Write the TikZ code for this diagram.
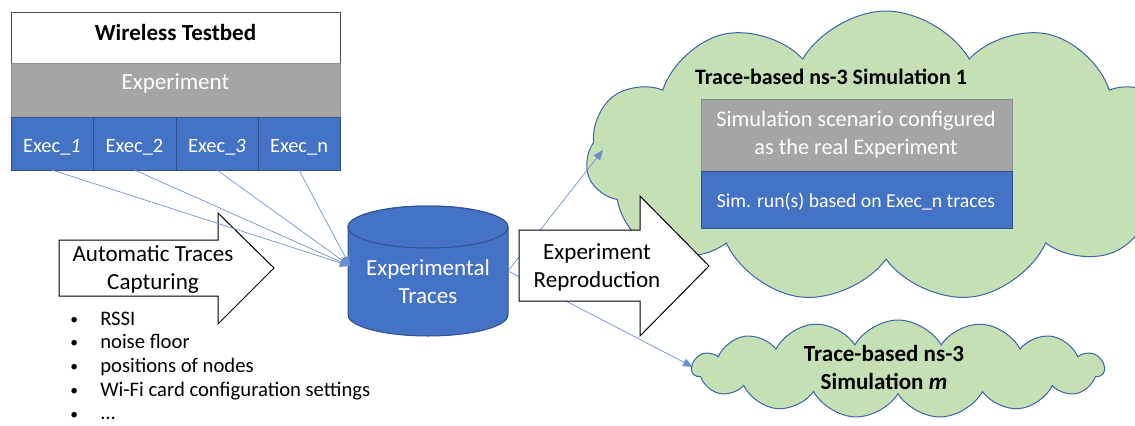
\documentclass[tikz,border=0pt]{standalone}
\usepackage{fontspec}
\setmainfont{Carlito}
\usetikzlibrary{shapes.symbols, arrows.meta}
\definecolor{offblue}{HTML}{4472C4}
\definecolor{offbluedark}{HTML}{2F528F}
\definecolor{offgray}{HTML}{A5A5A5}
\definecolor{offgraydark}{HTML}{8C8C8C}
\definecolor{offgreen}{HTML}{C5E0B4}
\definecolor{cloudline}{HTML}{3C64A8}
\definecolor{connline}{HTML}{6A8FD0}
\def\px{0.75pt}
\newcommand\twol[2]{\begin{tabular}[t]{@{}c@{}}#1\\#2\end{tabular}}
\newcommand\bul{\makebox[22.5pt][l]{\raisebox{0.6pt}{\scalebox{0.75}{\textbullet}}}}
\begin{document}
\begin{tikzpicture}[x=0.75pt, y=-0.75pt,
  big/.style={font=\fontsize{17.3}{21.4}\selectfont},
  txt/.style={inner sep=0pt, outer sep=0pt, anchor=base},
  box/.style={rectangle, inner sep=0pt, outer sep=0pt, anchor=north west, line width=0.75pt},
  whitebox/.style={box, fill=white, draw=black!70},
  graybox/.style={box, fill=offgray, draw=offgraydark},
  bluebox/.style={box, fill=offblue, draw=offbluedark},
  sz/.style 2 args={minimum width=#1*\px, minimum height=#2*\px},
  cloudsh/.style={cloud, cloud puffs=11, cloud puff arc=120, fill=offgreen, draw=cloudline, line width=0.75pt, inner sep=0pt},
  bigarrow/.style={fill=white, draw=black, line width=0.75pt, line join=miter},
  conn/.style={draw=connline, line width=0.5pt, -{Triangle[length=7.5pt, width=6pt]}},
  cyl/.style={fill=offblue, draw=offbluedark, line width=0.75pt}
]
\useasboundingbox (0,0) rectangle (1135,425);
\clip (0,0) rectangle (1135,425);

% clouds
\node[cloudsh, sz={600}{292}] (sim1) at (886,157) {};
\node[cloudsh, cloud puffs=15, sz={412}{98}] (simm) at (898,369) {};

% cylinder
\node[rectangle, inner sep=0pt, sz={160}{130}] (traces) at (428,271) {};
\path[cyl] (348,227) -- (348,315) arc[start angle=180, end angle=360, x radius=60pt, y radius=15.75pt]
  -- (508,227) arc[start angle=0, end angle=180, x radius=60pt, y radius=15.75pt] -- cycle;
\draw[cyl] (428,227) ellipse [x radius=60pt, y radius=15.75pt];
\node[txt, big, text=white] (tracesT) at (428,275) {\twol{Experimental}{Traces}};
\coordinate (trIn) at (350,266);
\coordinate (trOut) at (508,271);
\coordinate (sim1In) at (603,150);
\coordinate (simmIn) at (693,367);

% connectors to clouds
\draw[conn] (trOut) -- (sim1In);
\draw[conn] (trOut) -- (simmIn);

% reproduction arrow
\draw[bigarrow] (519,230) -- (640,230) -- (640,196) -- (709,266) -- (640,336) -- (640,301) -- (519,301) -- cycle;
\node[txt, big] (reproT) at (597,259) {\twol{Experiment}{Reproduction}};

% capturing arrow
\draw[bigarrow] (59,240) -- (218,240) -- (218,213) -- (274,268) -- (218,324) -- (218,296) -- (59,296) -- cycle;
\node[txt, big] (capT) at (153,261) {\twol{Automatic Traces}{Capturing}};

% testbed
\node[whitebox, sz={329}{51}] (testbed) at (11,12) {};
\node[graybox, sz={329}{54}] (experiment) at (11,63) {};
\node[bluebox, sz={82}{53}] (exec1) at (11,117) {};
\node[bluebox, sz={83}{53}] (exec2) at (93,117) {};
\node[bluebox, sz={82}{53}] (exec3) at (176,117) {};
\node[bluebox, sz={82}{53}] (exec4) at (258,117) {};
\node[txt, big] (testbedT) at (175.5,40) {\bfseries Wireless Testbed};
\node[txt, big, text=white] (experimentT) at (175.5,89) {Experiment};
\begin{scope}[font=\fontsize{15.3}{18}\selectfont]
\node[txt, text=white] (exec1T) at (52,152) {Exec\_\textit{1}};
\node[txt, text=white] (exec2T) at (134.5,152) {Exec\_2};
\node[txt, text=white] (exec3T) at (217,152) {Exec\_\textit{3}};
\node[txt, text=white] (exec4T) at (299,152) {Exec\_n};
\end{scope}

% connectors from executions
\draw[conn] (exec1.south) -- (trIn);
\draw[conn] (exec2.south) -- (trIn);
\draw[conn] (exec3.south) -- (trIn);
\draw[conn] (exec4.south) -- (trIn);

% bullets
\node[inner sep=0pt, anchor=base west, font=\fontsize{15.5}{17.8}\selectfont] (bullets) at (70,325)
 {\begin{tabular}[t]{@{}l@{}l@{}}
  \bul & RSSI\\
  \bul & noise floor\\
  \bul & positions of nodes\\
  \bul & Wi-Fi card configuration settings\\
  \bul & ...
 \end{tabular}};

% simulation 1 content
\node[txt, font=\fontsize{16.5}{20}\selectfont\bfseries] (sim1T) at (831,84) {Trace-based ns-3 Simulation 1};
\node[graybox, sz={311}{72}] (scen) at (701,99) {};
\node[bluebox, sz={311}{57}] (runs) at (701,171) {};
\node[txt, text=white, font=\fontsize{16.7}{21}\selectfont] (scenT) at (856,126) {\twol{Simulation scenario configured}{as the real Experiment}};
\node[txt, text=white, font=\fontsize{14.8}{18}\selectfont] (runsT) at (856,207) {Sim. run(s) based on Exec\_n traces};

% simulation m content
\node[txt, big] (simmT) at (884,361) {\bfseries\twol{Trace-based ns-3}{Simulation \textit{m}}};
\end{tikzpicture}
\end{document}
